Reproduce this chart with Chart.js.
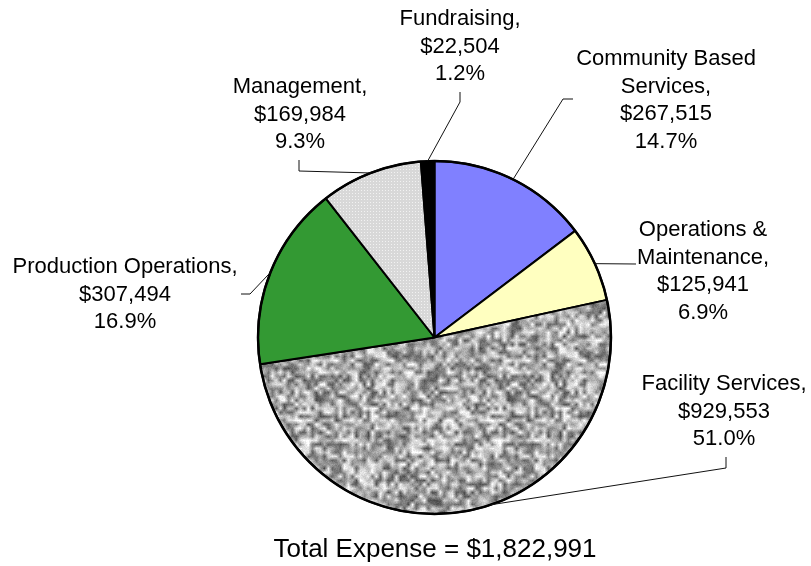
<!DOCTYPE html>
<html>
<head>
<meta charset="utf-8">
<script src="https://cdn.jsdelivr.net/npm/chart.js@4.4.0/dist/chart.umd.min.js"></script>
<style>
  html, body { margin: 0; padding: 0; background: #fff; }
  #wrap { width: 811px; height: 566px; }
</style>
</head>
<body>
<div id="wrap"><canvas id="pieChart" width="811" height="566"></canvas></div>
<script>
// Dữ liệu (clockwise from 12 o'clock)
const categories = ["Community Based Services", "Operations & Maintenance", "Facility Services",
                    "Production Operations", "Management", "Fundraising"];
const expenses = [267515, 125941, 929553, 307494, 169984, 22504];
const labelNames = [["Community Based", "Services,"], ["Operations &", "Maintenance,"], ["Facility Services,"],
                    ["Production Operations,"], ["Management,"], ["Fundraising,"]];
const totalText = "Total Expense = ";

// Vị trí nhãn + đường dẫn (layout only)
const labelLayout = [
  { x: 666, y: 65,  leader: [[573, 99], [563, 99]] },
  { x: 703, y: 236, leader: [[636, 264]] },
  { x: 724, y: 390, leader: [[726, 457], [726, 468]], at: 0.456 },
  { x: 125, y: 273, leader: [[241, 294], [250, 294]] },
  { x: 300, y: 93,  leader: [[299, 160], [299, 171]] },
  { x: 460, y: 25,  leader: [[460, 92], [460, 102]] }
];
const LABEL_FONT = '22px "Liberation Sans", Arial, sans-serif';
const LINE_H = 27.5;

const total = expenses.reduce((a, b) => a + b, 0);
const money = v => "$" + v.toLocaleString("en-US");

// textures
function seeded(s) {
  return function () {
    s |= 0; s = (s + 0x6D2B79F5) | 0;
    let t = Math.imul(s ^ (s >>> 15), 1 | s);
    t = (t + Math.imul(t ^ (t >>> 7), 61 | t)) ^ t;
    return ((t ^ (t >>> 14)) >>> 0) / 4294967296;
  };
}

// granite look for Facility Services - tileable (wrap-around bilinear)
function makeGranite() {
  const rnd = seeded(20240);
  const n = 48, scale = 4, N = n * scale;
  const grid = [];
  for (let i = 0; i < n * n; i++) grid.push(70 + rnd() * 180);
  const c = document.createElement("canvas");
  c.width = c.height = N;
  const x = c.getContext("2d");
  const img = x.createImageData(N, N);
  for (let py = 0; py < N; py++) {
    const fy = py / scale, y0 = Math.floor(fy), y1 = (y0 + 1) % n, ty = fy - y0;
    for (let px = 0; px < N; px++) {
      const fx = px / scale, x0 = Math.floor(fx), x1 = (x0 + 1) % n, tx = fx - x0;
      const top = grid[y0 * n + x0] * (1 - tx) + grid[y0 * n + x1] * tx;
      const bot = grid[y1 * n + x0] * (1 - tx) + grid[y1 * n + x1] * tx;
      let g = top * (1 - ty) + bot * ty + 8 + (rnd() - 0.5) * 24;
      g = Math.max(0, Math.min(255, g));
      const k = (py * N + px) * 4;
      img.data[k] = img.data[k + 1] = img.data[k + 2] = g;
      img.data[k + 3] = 255;
    }
  }
  x.putImageData(img, 0, 0);
  return x.createPattern(c, "repeat");
}

function makeDots() {
  const c = document.createElement("canvas");
  c.width = c.height = 3;
  const x = c.getContext("2d");
  x.fillStyle = "#d8d8d8"; x.fillRect(0, 0, 3, 3);
  x.fillStyle = "#f2f2f2"; x.fillRect(1, 1, 1, 1);
  return x.createPattern(c, "repeat");
}

const sliceColors = ["#8080ff", "#ffffc0", makeGranite(), "#339933", makeDots(), "#000000"];

const labelPlugin = {
  id: "pieLabels",
  afterDatasetsDraw(chart) {
    const ctx = chart.ctx;
    const arcs = chart.getDatasetMeta(0).data;
    ctx.save();
    // outer rim a bit heavier
    const c0 = arcs[0].getProps(["x", "y", "outerRadius"], true);
    ctx.strokeStyle = "#000";
    ctx.lineWidth = 2.5;
    ctx.beginPath();
    ctx.arc(c0.x, c0.y, c0.outerRadius, 0, Math.PI * 2);
    ctx.stroke();
    // leader lines
    ctx.strokeStyle = "#111";
    ctx.lineWidth = 1;
    arcs.forEach((arc, i) => {
      const p = arc.getProps(["x", "y", "startAngle", "endAngle", "outerRadius"], true);
      const lay = labelLayout[i];
      const f = lay.at != null ? lay.at : 0.5;
      const a = p.startAngle + (p.endAngle - p.startAngle) * f;
      const ax = p.x + Math.cos(a) * p.outerRadius;
      const ay = p.y + Math.sin(a) * p.outerRadius;
      ctx.beginPath();
      ctx.moveTo(lay.leader[0][0], lay.leader[0][1]);
      for (let k = 1; k < lay.leader.length; k++) ctx.lineTo(lay.leader[k][0], lay.leader[k][1]);
      ctx.lineTo(ax, ay);
      ctx.stroke();
    });
    // texts
    ctx.fillStyle = "#000";
    ctx.font = LABEL_FONT;
    ctx.textAlign = "center";
    ctx.textBaseline = "alphabetic";
    arcs.forEach((arc, i) => {
      const lay = labelLayout[i];
      const lines = labelNames[i].concat([money(expenses[i]), (expenses[i] / total * 100).toFixed(1) + "%"]);
      lines.forEach((t, k) => ctx.fillText(t, lay.x, lay.y + k * LINE_H));
    });
    ctx.font = '26px "Liberation Sans", Arial, sans-serif';
    ctx.fillText(totalText + money(total), 435, 557);
    ctx.restore();
  }
};

new Chart(document.getElementById("pieChart"), {
  type: "pie",
  data: {
    labels: categories,
    datasets: [{
      data: expenses,
      backgroundColor: sliceColors,
      borderColor: "#000",
      borderWidth: 2
    }]
  },
  options: {
    responsive: false,
    animation: false,
    devicePixelRatio: 1,
    layout: { padding: { left: 257, top: 160, right: 199, bottom: 51 } },
    plugins: { legend: { display: false }, tooltip: { enabled: false } }
  },
  plugins: [labelPlugin]
});
</script>
</body>
</html>
